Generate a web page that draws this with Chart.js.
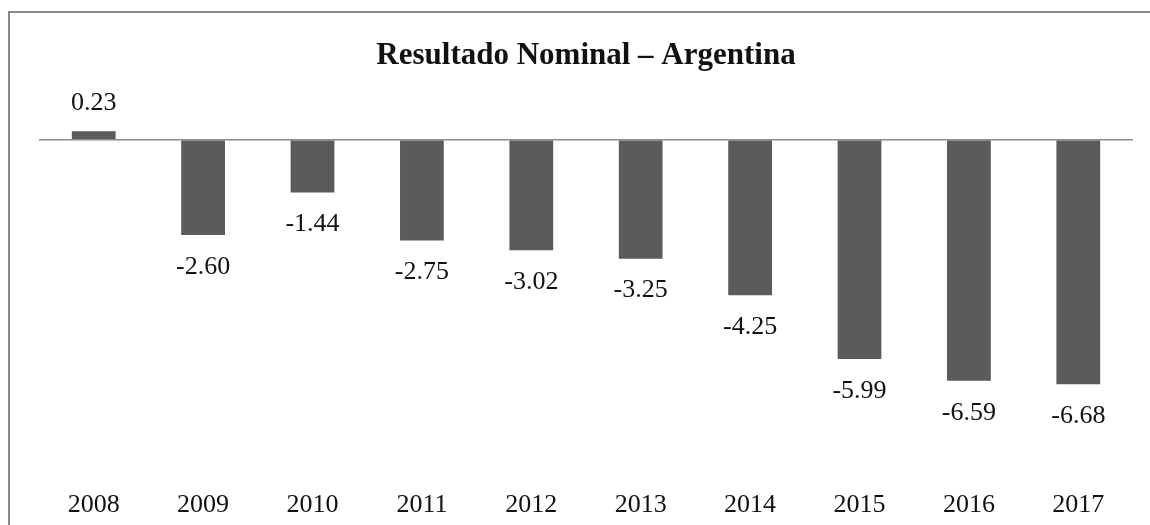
<!DOCTYPE html>
<html>
<head>
<meta charset="utf-8">
<script src="https://cdn.jsdelivr.net/npm/chart.js@4"></script>
<style>
  html, body { margin: 0; padding: 0; background: #fff; }
  #wrap { position: relative; width: 1150px; height: 525px; overflow: hidden; }
  #frame { position: absolute; left: 8px; top: 11px; width: 1160px; height: 540px; border: 2px solid #8a8a8a; box-sizing: border-box; }
  canvas { position: absolute; left: 0; top: 0; }
</style>
</head>
<body>
<div id="wrap">
  <div id="frame"></div>
  <canvas id="c" width="1150" height="525"></canvas>
</div>
<script>
const titleText = "Resultado Nominal – Argentina";
const years = ["2008","2009","2010","2011","2012","2013","2014","2015","2016","2017"];
const resultado = [0.23, -2.60, -1.44, -2.75, -3.02, -3.25, -4.25, -5.99, -6.59, -6.68];

const labelPlugin = {
  id: 'valueLabels',
  afterDatasetsDraw(chart) {
    const ctx = chart.ctx;
    const meta = chart.getDatasetMeta(0);
    ctx.save();
    ctx.font = '26px "Liberation Serif"';
    ctx.fillStyle = '#111';
    ctx.textAlign = 'center';
    ctx.textBaseline = 'middle';
    meta.data.forEach((el, i) => {
      const v = chart.data.datasets[0].data[i];
      const y = v >= 0 ? el.y - 28 : el.y + 32;
      ctx.fillText(v.toFixed(2), el.x, y);
    });
    ctx.restore();
  }
};

new Chart(document.getElementById('c'), {
  type: 'bar',
  data: {
    labels: years,
    datasets: [{
      data: resultado,
      backgroundColor: '#5b5b5b',
      borderWidth: 0,
      categoryPercentage: 1,
      barPercentage: 0.4
    }]
  },
  options: {
    responsive: false,
    animation: false,
    devicePixelRatio: 1,
    layout: { padding: { left: 39, right: 17, top: 0, bottom: 0 } },
    plugins: {
      legend: { display: false },
      tooltip: { enabled: false },
      title: {
        display: true,
        text: titleText,
        color: '#111',
        font: { family: '"Liberation Serif"', size: 31, weight: 'bold', lineHeight: 1.2 },
        padding: { top: 37, bottom: 29 }
      }
    },
    scales: {
      x: {
        grid: { display: false, drawTicks: false },
        border: { display: false },
        ticks: { color: '#111', font: { family: '"Liberation Serif"', size: 26 }, padding: 21, maxRotation: 0 },
        afterFit: (s) => { s.height = 56; }
      },
      y: {
        display: true,
        min: -9,
        max: 1,
        ticks: { display: false, stepSize: 1 },
        border: { display: false },
        grid: {
          drawTicks: false,
          color: (c) => (c.tick && c.tick.value === 0 ? '#8c8c8c' : 'rgba(0,0,0,0)'),
          lineWidth: 1.5
        }
      }
    }
  },
  plugins: [labelPlugin]
});
</script>
</body>
</html>
